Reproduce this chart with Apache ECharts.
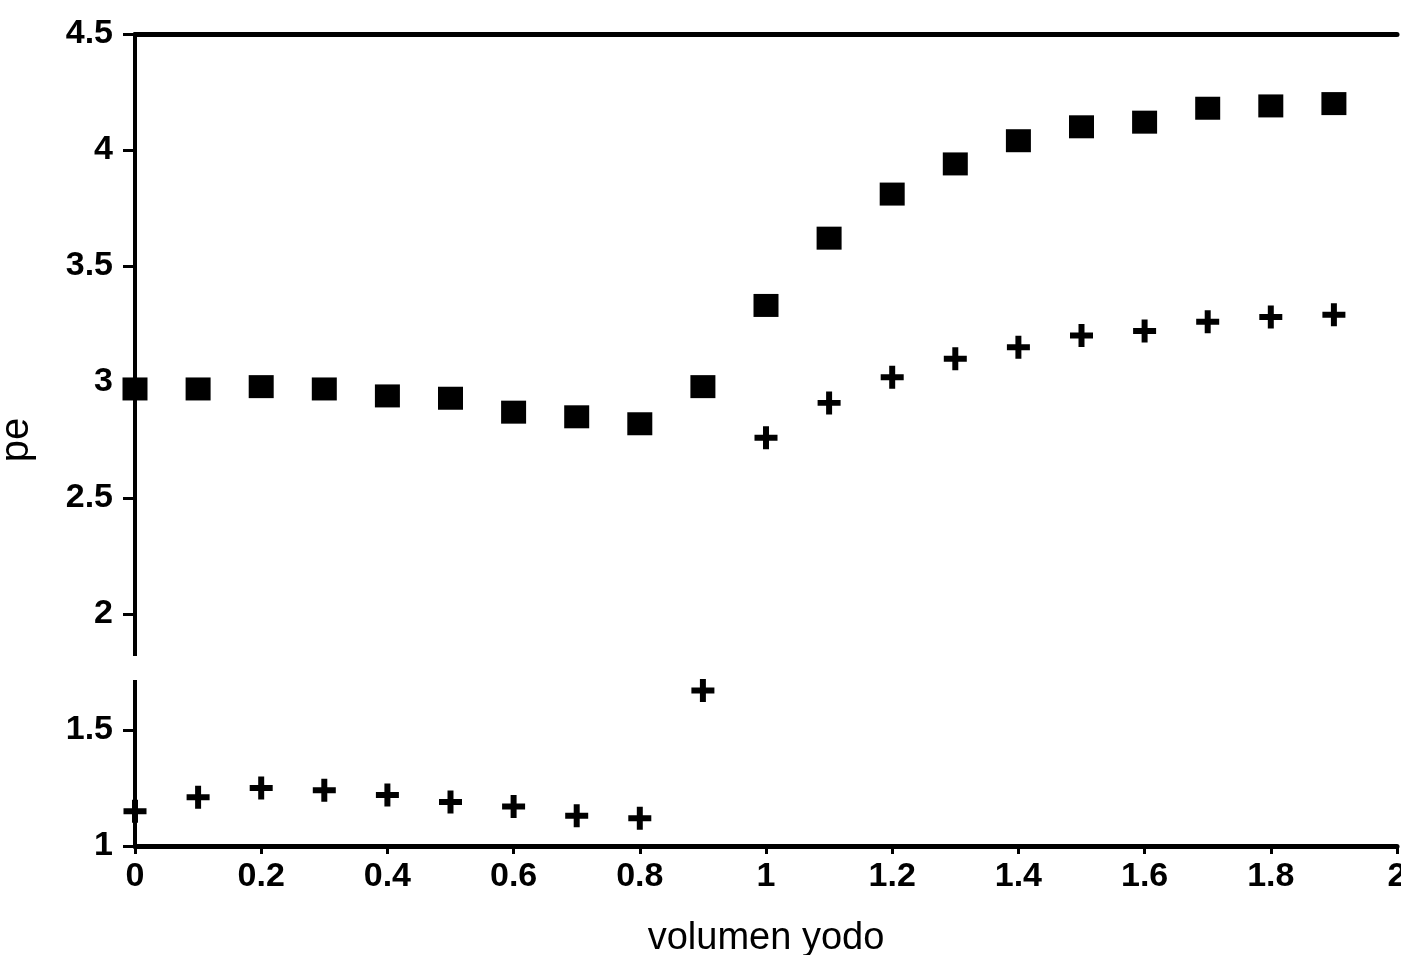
<!DOCTYPE html>
<html>
<head>
<meta charset="utf-8">
<title>pe vs volumen yodo</title>
<script src="https://cdn.jsdelivr.net/npm/echarts@6/dist/echarts.min.js"></script>
<style>
  html, body { margin: 0; padding: 0; background: #fff; }
  #chart { width: 1401px; height: 955px; }
</style>
</head>
<body>
<div id="chart"></div>
<script>
// volumen de yodo (x)
const volumen = [0, 0.1, 0.2, 0.3, 0.4, 0.5, 0.6, 0.7, 0.8, 0.9,
  1.0, 1.1, 1.2, 1.3, 1.4, 1.5, 1.6, 1.7, 1.8, 1.9];

// serie de cuadrados
const peCuadrados = [2.97, 2.97, 2.98, 2.97, 2.94, 2.93, 2.87, 2.85, 2.82, 2.98,
  3.33, 3.62, 3.81, 3.94, 4.04, 4.10, 4.12, 4.18, 4.19, 4.20];

// serie de cruces
const peCruces = [1.15, 1.21, 1.25, 1.24, 1.22, 1.19, 1.17, 1.13, 1.12, 1.67,
  2.76, 2.91, 3.02, 3.10, 3.15, 3.20, 3.22, 3.26, 3.28, 3.29];

const font = 'Liberation Sans';
// plus sign with thick arms
const plus = 'path://M3.7,0h2.6v3.7h3.7v2.6h-3.7v3.7h-2.6v-3.7h-3.7v-2.6h3.7z';

const pairs = (ys) => volumen.map((x, i) => [x, ys[i]]);

const chart = echarts.init(document.getElementById('chart'));

chart.setOption({
  animation: false,
  grid: {
    left: 135,
    right: 4,
    top: 34,
    bottom: 109,
    containLabel: false,
    outerBoundsMode: 'none',
  },
  xAxis: [
    {
      type: 'value',
      min: 0,
      max: 2,
      interval: 0.2,
      name: 'volumen yodo',
      nameLocation: 'middle',
      nameGap: 74,
      nameTextStyle: { fontFamily: font, fontSize: 38, color: '#000' },
      axisLine: { lineStyle: { color: '#000', width: 5 } },
      axisTick: { inside: false, length: 8, lineStyle: { color: '#000', width: 3 } },
      axisLabel: {
        margin: 14,
        fontFamily: font,
        fontSize: 34,
        fontWeight: 'bold',
        color: '#000',
      },
      splitLine: { show: false },
    },
    {
      // top border
      type: 'value',
      position: 'top',
      min: 0,
      max: 2,
      axisLine: { lineStyle: { color: '#000', width: 5 } },
      axisTick: { show: false },
      axisLabel: { show: false },
      splitLine: { show: false },
    },
  ],
  yAxis: {
    type: 'value',
    min: 1,
    max: 4.5,
    interval: 0.5,
    name: 'pe',
    nameLocation: 'middle',
    nameGap: 98,
    nameTextStyle: { fontFamily: font, fontSize: 40, color: '#000' },
    axisLine: { show: true, lineStyle: { color: '#000', width: 4 } },
    axisTick: { show: true, length: 12, lineStyle: { color: '#000', width: 3 } },
    axisLabel: {
      margin: 22,
      fontFamily: font,
      fontSize: 34,
      fontWeight: 'bold',
      color: '#000',
    },
    splitLine: { show: false },
  },
  // gap in the y axis line
  graphic: [
    {
      type: 'rect',
      shape: { x: 131, y: 656, width: 9, height: 24 },
      style: { fill: '#fff' },
      z: 100,
    },
  ],
  series: [
    {
      type: 'scatter',
      data: pairs(peCuadrados),
      symbol: 'rect',
      symbolSize: [25, 23],
      itemStyle: { color: '#000', opacity: 1 },
    },
    {
      type: 'scatter',
      data: pairs(peCruces),
      symbol: plus,
      symbolSize: 23,
      itemStyle: { color: '#000', opacity: 1 },
    },
  ],
});
</script>
</body>
</html>
